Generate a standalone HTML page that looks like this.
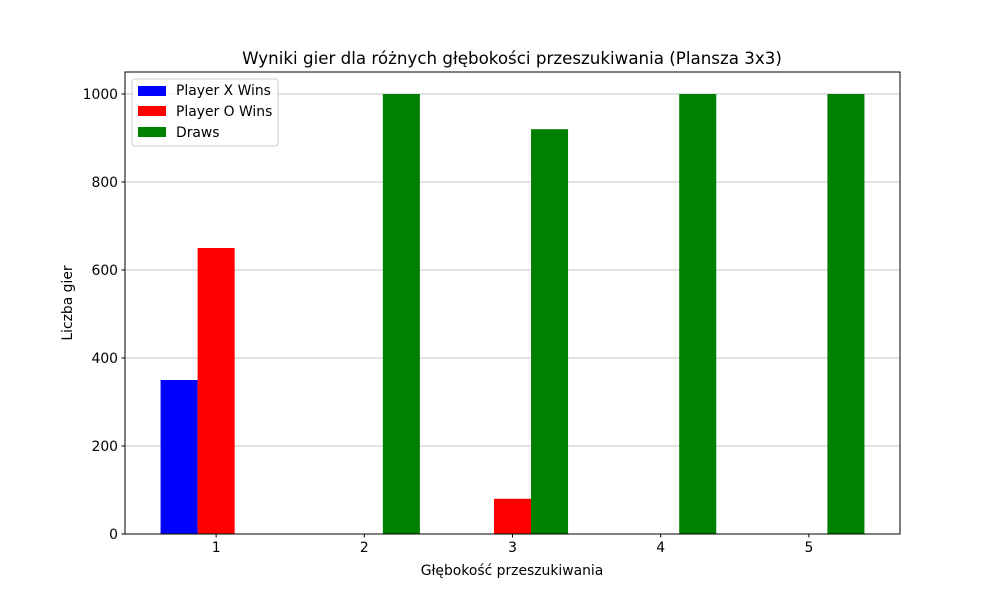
<!DOCTYPE html>
<html><head><meta charset="utf-8"><style>
body{margin:0;background:#fff;}
svg text{font-family:"DejaVu Sans","Liberation Sans",sans-serif;}
</style></head><body>
<svg id="c" width="1000" height="600" xmlns="http://www.w3.org/2000/svg">
<rect width="1000" height="600" fill="#fff"/>
</svg>
<script>
const categories=[1,2,3,4,5];
const xWins=[350,0,0,0,0];
const oWins=[650,0,80,0,0];
const draws=[0,1000,920,1000,1000];
const yTicks=[0,200,400,600,800,1000];
const svg=document.getElementById('c');
const NS='http://www.w3.org/2000/svg';
const L=125,R=900,T=72,B=534;
const xmin=0.385,xmax=5.615,ymin=0,ymax=1050;
const xs=v=>L+(v-xmin)/(xmax-xmin)*(R-L);
const ys=v=>B-(v-ymin)/(ymax-ymin)*(B-T);
function el(tag,attrs,parent){const e=document.createElementNS(NS,tag);for(const k in attrs)e.setAttribute(k,attrs[k]);(parent||svg).appendChild(e);return e;}
yTicks.forEach(t=>{
 const g=el('line',{x1:L,x2:R,y1:ys(t),y2:ys(t),stroke:'#b0b0b0','stroke-width':0.8});
 
 
});
const w=0.25;
const series=[[xWins,'#0000ff',-w,'bar-x-wins'],[oWins,'#ff0000',0,'bar-o-wins'],[draws,'#008000',w,'bar-draws']];
series.forEach(([vals,col,off,name])=>{
 categories.forEach((c,i)=>{
  const x0=xs(c+off-w/2),x1=xs(c+off+w/2);
  const r=el('rect',{x:x0,y:ys(vals[i]),width:x1-x0,height:ys(0)-ys(vals[i]),fill:col});
  
  
 });
});
const f=el('rect',{x:L,y:T,width:R-L,height:B-T,fill:'none',stroke:'#000','stroke-width':1});


yTicks.forEach(t=>{
 el('line',{x1:L-3.5,x2:L,y1:ys(t),y2:ys(t),stroke:'#000'});
 const tx=el('text',{x:L-7,y:ys(t)+5,'text-anchor':'end','font-size':13.9});
 tx.textContent=t;
 
 
});
categories.forEach(c=>{
 el('line',{x1:xs(c),x2:xs(c),y1:B,y2:B+3.5,stroke:'#000'});
 const tx=el('text',{x:xs(c),y:B+18,'text-anchor':'middle','font-size':13.9});
 tx.textContent=c;
 
 
});
</script>
<svg style="position:absolute;left:0;top:0" width="1000" height="600" xmlns="http://www.w3.org/2000/svg">
<text x="512" y="64" text-anchor="middle" font-size="16.7">Wyniki gier dla różnych głębokości przeszukiwania (Plansza 3x3)</text>
<text x="512" y="575" text-anchor="middle" font-size="13.9">Głębokość przeszukiwania</text>
<text x="72" y="303" text-anchor="middle" font-size="13.9" transform="rotate(-90 72 303)">Liczba gier</text>
<g>
<rect x="132" y="79" width="146" height="67" rx="3" fill="#fff" fill-opacity="0.8" stroke="#ccc"/>
<rect x="138" y="86" width="28" height="10" fill="#0000ff"/>
<text x="176" y="95" font-size="13.9">Player X Wins</text>
<rect x="138" y="106" width="28" height="10" fill="#ff0000"/>
<text x="176" y="116" font-size="13.9">Player O Wins</text>
<rect x="138" y="127" width="28" height="10" fill="#008000"/>
<text x="176" y="137" font-size="13.9">Draws</text>
</g>
</svg>
</body></html>
